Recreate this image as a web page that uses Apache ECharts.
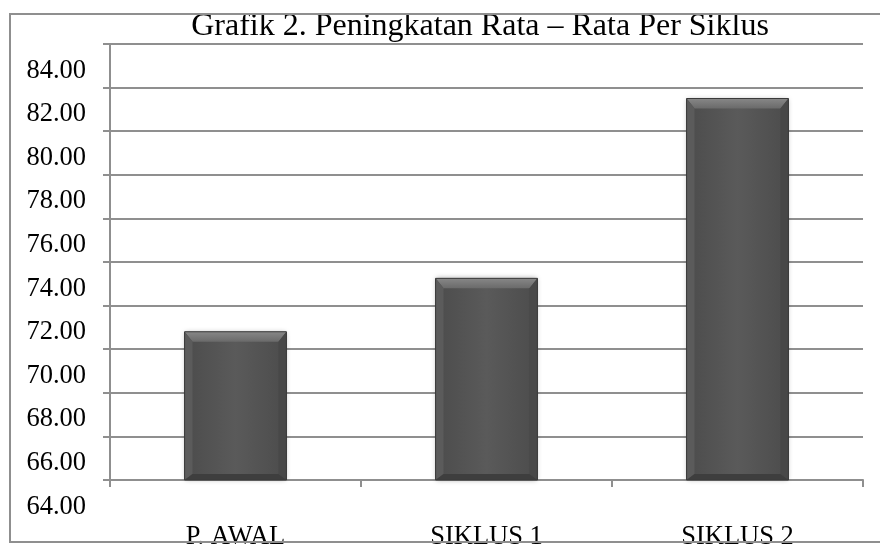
<!DOCTYPE html>
<html>
<head>
<meta charset="utf-8">
<style>
  html, body { margin: 0; padding: 0; background: #fff; }
  #chart { width: 880px; height: 544px; }
</style>
<script src="https://cdn.jsdelivr.net/npm/echarts@6/dist/echarts.min.js"></script>
</head>
<body>
<div id="chart"></div>
<script>
// Average score for each cycle
const categories = ['P. AWAL', 'SIKLUS 1', 'SIKLUS 2'];
const averages = [70.8, 73.25, 81.5];
// Value axis range, step and its tick labels
const yMin = 64;
const yMax = 84;
const yStep = 2;
const yTickLabels = ['64.00', '66.00', '68.00', '70.00', '72.00', '74.00',
                     '76.00', '78.00', '80.00', '82.00', '84.00'];

const serif = "'Liberation Serif', 'Times New Roman', serif";
const gridColor = '#8f8f8f';

const chart = echarts.init(document.getElementById('chart'), null, { renderer: 'canvas' });

// Bevelled bar: front face with lighter top edge and darker sides/bottom
function renderBevelBar(params, api) {
  const idx = api.value(0);
  const val = api.value(1);
  const topPt = api.coord([idx, val]);
  const basePt = api.coord([idx, yMin]);
  const w = api.size([1, 0])[0] * 0.406;
  const x0 = topPt[0] - w / 2, x1 = topPt[0] + w / 2;
  const y0 = topPt[1], y1 = basePt[1];
  const bt = 10, bs = 8, bb = 6;
  return {
    type: 'group',
    children: [
      {
        type: 'rect',
        shape: { x: x0, y: y0, width: w, height: y1 - y0 },
        style: {
          fill: new echarts.graphic.LinearGradient(0, 0, 1, 0, [
            { offset: 0, color: '#4c4c4c' },
            { offset: 0.5, color: '#5a5a5a' },
            { offset: 1, color: '#4c4c4c' }
          ]),
          shadowBlur: 5,
          shadowColor: 'rgba(0,0,0,0.35)'
        }
      },
      {
        type: 'polygon',
        shape: { points: [[x0, y0], [x1, y0], [x1 - bs, y0 + bt], [x0 + bs, y0 + bt]] },
        style: {
          fill: new echarts.graphic.LinearGradient(0, 0, 0, 1, [
            { offset: 0, color: '#878787' },
            { offset: 1, color: '#6a6a6a' }
          ])
        }
      },
      {
        type: 'polygon',
        shape: { points: [[x0, y0], [x0 + bs, y0 + bt], [x0 + bs, y1 - bb], [x0, y1]] },
        style: { fill: '#5b5b5b' }
      },
      {
        type: 'polygon',
        shape: { points: [[x1, y0], [x1 - bs, y0 + bt], [x1 - bs, y1 - bb], [x1, y1]] },
        style: { fill: '#484848' }
      },
      {
        type: 'polygon',
        shape: { points: [[x0, y1], [x0 + bs, y1 - bb], [x1 - bs, y1 - bb], [x1, y1]] },
        style: { fill: '#3e3e3e' }
      },
      {
        type: 'rect',
        shape: { x: x0, y: y0, width: w, height: y1 - y0 },
        style: { fill: null, stroke: '#3a3a3a', lineWidth: 1 }
      }
    ]
  };
}

// Value-axis labels, each set half a step below its gridline
function renderTickLabel(params, api) {
  const y = api.coord([0, api.value(1)])[1];
  const step = api.size([0, yStep])[1];
  return {
    type: 'text',
    x: params.coordSys.x - 24,
    y: y + step * 0.61,
    style: {
      text: yTickLabels[params.dataIndex],
      fontFamily: serif,
      fontSize: 26.5,
      fill: '#000',
      align: 'right',
      verticalAlign: 'middle'
    }
  };
}

const option = {
  backgroundColor: '#ffffff',
  animation: false,
  title: {
    text: 'Grafik 2. Peningkatan Rata \u2013 Rata Per Siklus',
    left: 475,
    top: 6,
    textAlign: 'center',
    textStyle: { fontFamily: serif, fontSize: 32, fontWeight: 'normal', color: '#000' }
  },
  grid: {
    left: 110, right: 17, top: 44, bottom: 64,
    containLabel: false,
    outerBoundsMode: 'none'
  },
  xAxis: {
    type: 'category',
    data: categories,
    boundaryGap: true,
    axisLine: { lineStyle: { color: gridColor, width: 2 } },
    axisTick: { show: true, length: 7, lineStyle: { color: gridColor, width: 2 } },
    axisLabel: { fontFamily: serif, fontSize: 26.5, color: '#000', margin: 44 },
    splitLine: { show: false }
  },
  yAxis: {
    type: 'value',
    min: yMin,
    max: yMax,
    interval: yStep,
    axisLine: { show: true, lineStyle: { color: gridColor, width: 2 } },
    axisTick: { show: true, length: 7, lineStyle: { color: gridColor, width: 2 } },
    axisLabel: { show: false },
    splitLine: { show: true, lineStyle: { color: gridColor, width: 2 } }
  },
  series: [
    {
      type: 'custom',
      renderItem: renderBevelBar,
      encode: { x: 0, y: 1 },
      data: averages.map((v, i) => [i, v]),
      clip: false
    },
    {
      type: 'custom',
      renderItem: renderTickLabel,
      encode: { x: 0, y: 1 },
      data: yTickLabels.map(t => [0, parseFloat(t)]),
      clip: false,
      silent: true
    }
  ],
  graphic: [{
    type: 'rect',
    shape: { x: 10, y: 14, width: 890, height: 528 },
    style: { fill: null, stroke: gridColor, lineWidth: 2 },
    z: 100,
    silent: true
  }]
};

chart.setOption(option);
</script>
</body>
</html>
